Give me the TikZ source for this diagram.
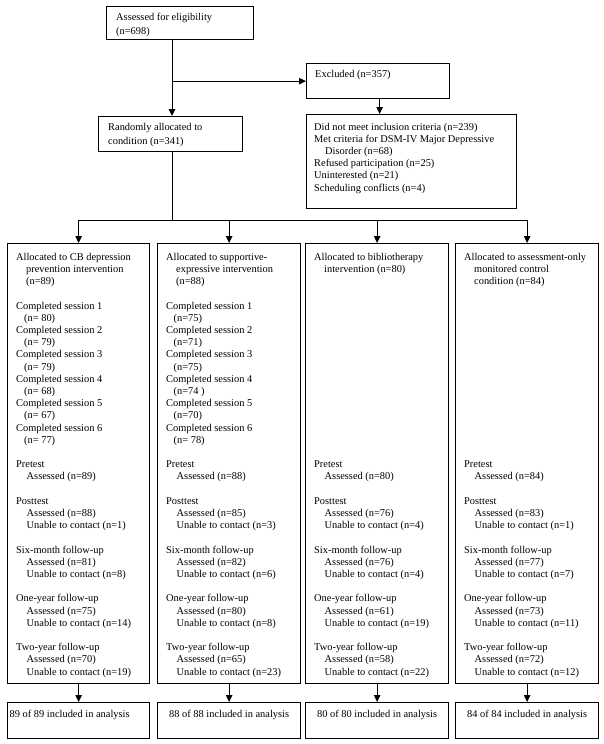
\documentclass[tikz,border=0pt]{standalone}
\usepackage{fontspec}
\setmainfont{Liberation Serif}
\usetikzlibrary{arrows.meta,calc}
\newcommand\ind[1]{\hspace*{#1pt}}
\begin{document}
\begin{tikzpicture}[x=1pt,y=-1pt,
  box/.style={draw,line width=1.3pt,inner sep=0pt,anchor=north west},
  txt/.style={inner sep=0pt,anchor=north west,align=left,font=\fontsize{10.4}{12.2}\selectfont},
  conn/.style={line width=0.9pt},
  arr/.style={conn,-{Triangle[length=7pt,width=6.5pt]}}]
\useasboundingbox (0,0) rectangle (604,744);
% boxes
\node[box,minimum width=147pt,minimum height=33pt] (top) at (106,6) {};
\node[box,minimum width=143pt,minimum height=35pt] (excl) at (306,63) {};
\node[box,minimum width=210pt,minimum height=94pt] (exd) at (306,114) {};
\node[box,minimum width=144pt,minimum height=35pt] (rand) at (98,116) {};
\node[box,minimum width=142pt,minimum height=440pt] (b1) at (7,243) {};
\node[box,minimum width=143pt,minimum height=440pt] (b2) at (157,243) {};
\node[box,minimum width=143pt,minimum height=440pt] (b3) at (305,243) {};
\node[box,minimum width=143pt,minimum height=440pt] (b4) at (455,243) {};
\node[box,minimum width=142pt,minimum height=36pt] (a1) at (7,702) {};
\node[box,minimum width=143pt,minimum height=36pt] (a2) at (157,702) {};
\node[box,minimum width=143pt,minimum height=36pt] (a3) at (305,702) {};
\node[box,minimum width=143pt,minimum height=36pt] (a4) at (455,702) {};
% texts
\node[txt,font=\fontsize{10.4}{14.5}\selectfont] (ttop) at ($(top.north west)+(10,6.5)$) {Assessed for eligibility\\(n=698)};
\node[txt] (texcl) at ($(excl.north west)+(9,7.5)$) {Excluded (n=357)};
\node[txt] (texd) at ($(exd.north west)+(8,8.6)$) {Did not meet inclusion criteria (n=239)\\
Met criteria for DSM-IV Major Depressive\\
\ind{11}Disorder (n=68)\\
Refused participation (n=25)\\
Uninterested (n=21)\\
Scheduling conflicts (n=4)};
\node[txt,font=\fontsize{10.4}{14}\selectfont] (trand) at ($(rand.north west)+(10,7.5)$) {Randomly allocated to\\condition (n=341)};
\node[txt] (tb1) at ($(b1.north west)+(9,9.8)$) {Allocated to CB depression\\
\ind{10}prevention intervention\\
\ind{10}(n=89)\\
\mbox{}\\
Completed session 1\\
\ind{8}(n= 80)\\
Completed session 2\\
\ind{8}(n= 79)\\
Completed session 3\\
\ind{8}(n= 79)\\
Completed session 4\\
\ind{8}(n= 68)\\
Completed session 5\\
\ind{8}(n= 67)\\
Completed session 6\\
\ind{8}(n= 77)\\
\mbox{}\\
Pretest\\
\ind{10.5}Assessed (n=89)\\
\mbox{}\\
Posttest\\
\ind{10.5}Assessed (n=88)\\
\ind{10.5}Unable to contact (n=1)\\
\mbox{}\\
Six-month follow-up\\
\ind{10.5}Assessed (n=81)\\
\ind{10.5}Unable to contact (n=8)\\
\mbox{}\\
One-year follow-up\\
\ind{10.5}Assessed (n=75)\\
\ind{10.5}Unable to contact (n=14)\\
\mbox{}\\
Two-year follow-up\\
\ind{10.5}Assessed (n=70)\\
\ind{10.5}Unable to contact (n=19)};
\node[txt] (tb2) at ($(b2.north west)+(9,9.8)$) {Allocated to supportive-\\
\ind{10}expressive intervention\\
\ind{10}(n=88)\\
\mbox{}\\
Completed session 1\\
\ind{7.5}(n=75)\\
Completed session 2\\
\ind{7.5}(n=71)\\
Completed session 3\\
\ind{7.5}(n=75)\\
Completed session 4\\
\ind{7.5}(n=74 )\\
Completed session 5\\
\ind{7.5}(n=70)\\
Completed session 6\\
\ind{7.5}(n= 78)\\
\mbox{}\\
Pretest\\
\ind{10.5}Assessed (n=88)\\
\mbox{}\\
Posttest\\
\ind{10.5}Assessed (n=85)\\
\ind{10.5}Unable to contact (n=3)\\
\mbox{}\\
Six-month follow-up\\
\ind{10.5}Assessed (n=82)\\
\ind{10.5}Unable to contact (n=6)\\
\mbox{}\\
One-year follow-up\\
\ind{10.5}Assessed (n=80)\\
\ind{10.5}Unable to contact (n=8)\\
\mbox{}\\
Two-year follow-up\\
\ind{10.5}Assessed (n=65)\\
\ind{10.5}Unable to contact (n=23)};
\node[txt] (tb3) at ($(b3.north west)+(9,9.8)$) {Allocated to bibliotherapy\\
\ind{10}intervention (n=80)\\
\mbox{}\\ \mbox{}\\ \mbox{}\\ \mbox{}\\ \mbox{}\\ \mbox{}\\ \mbox{}\\ \mbox{}\\
\mbox{}\\ \mbox{}\\ \mbox{}\\ \mbox{}\\ \mbox{}\\ \mbox{}\\ \mbox{}\\
Pretest\\
\ind{10.5}Assessed (n=80)\\
\mbox{}\\
Posttest\\
\ind{10.5}Assessed (n=76)\\
\ind{10.5}Unable to contact (n=4)\\
\mbox{}\\
Six-month follow-up\\
\ind{10.5}Assessed (n=76)\\
\ind{10.5}Unable to contact (n=4)\\
\mbox{}\\
One-year follow-up\\
\ind{10.5}Assessed (n=61)\\
\ind{10.5}Unable to contact (n=19)\\
\mbox{}\\
Two-year follow-up\\
\ind{10.5}Assessed (n=58)\\
\ind{10.5}Unable to contact (n=22)};
\node[txt] (tb4) at ($(b4.north west)+(9,9.8)$) {Allocated to assessment-only\\
\ind{10}monitored control\\
\ind{10}condition (n=84)\\
\mbox{}\\ \mbox{}\\ \mbox{}\\ \mbox{}\\ \mbox{}\\ \mbox{}\\ \mbox{}\\
\mbox{}\\ \mbox{}\\ \mbox{}\\ \mbox{}\\ \mbox{}\\ \mbox{}\\ \mbox{}\\
Pretest\\
\ind{10.5}Assessed (n=84)\\
\mbox{}\\
Posttest\\
\ind{10.5}Assessed (n=83)\\
\ind{10.5}Unable to contact (n=1)\\
\mbox{}\\
Six-month follow-up\\
\ind{10.5}Assessed (n=77)\\
\ind{10.5}Unable to contact (n=7)\\
\mbox{}\\
One-year follow-up\\
\ind{10.5}Assessed (n=73)\\
\ind{10.5}Unable to contact (n=11)\\
\mbox{}\\
Two-year follow-up\\
\ind{10.5}Assessed (n=72)\\
\ind{10.5}Unable to contact (n=12)};
\node[txt] (ta1) at ($(a1.north west)+(2.5,7.6)$) {89 of 89 included in analysis};
\node[txt,anchor=north] (ta2) at ($(a2.north)+(0,7.6)$) {88 of 88 included in analysis};
\node[txt,anchor=north] (ta3) at ($(a3.north)+(0,7.6)$) {80 of 80 included in analysis};
\node[txt,anchor=north] (ta4) at ($(a4.north)+(0,7.6)$) {84 of 84 included in analysis};
% connectors
\coordinate (vx) at (172,0);
\coordinate (bus) at (0,220);
\draw[arr] (vx |- top.south) -- (vx |- rand.north);
\draw[arr] (vx |- excl.west) -- (excl.west);
\draw[arr] ($(excl.south)+(1.5,0)$) -- ($(excl.south |- exd.north)+(1.5,0)$);
\draw[conn] (vx |- rand.south) -- (vx |- bus);
\draw[conn] (b1.north |- bus) -- (b4.north |- bus);
\foreach \i in {1,2,3,4}{
  \draw[arr] (b\i.north |- bus) -- (b\i.north);
  \draw[arr] (b\i.south) -- (a\i.north);
}
\end{tikzpicture}
\end{document}
